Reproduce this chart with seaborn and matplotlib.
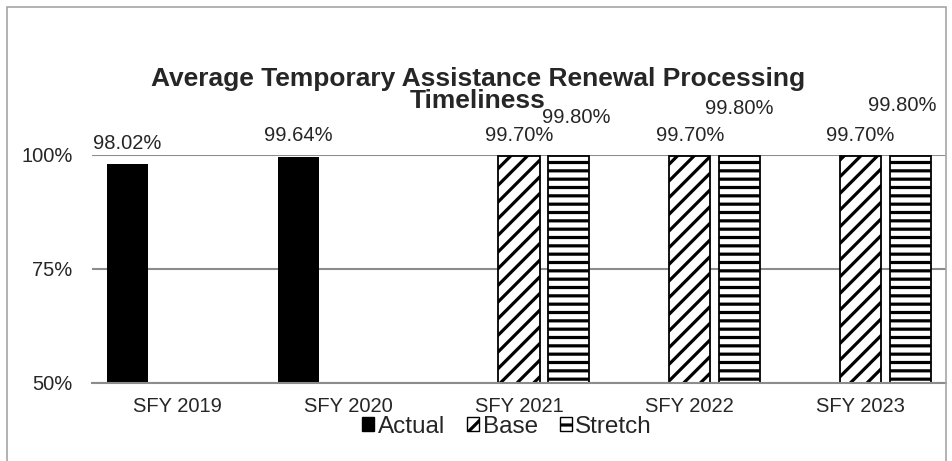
import pandas as pd
import numpy as np
import matplotlib
matplotlib.use("Agg")
import matplotlib.pyplot as plt
import matplotlib.patches as mpatches
import seaborn as sns

# ── data ────────────────────────────────────────────────────────────────────
years   = ["SFY 2019", "SFY 2020", "SFY 2021", "SFY 2022", "SFY 2023"]
series  = ["Actual", "Base", "Stretch"]
actual  = [98.02, 99.64, None, None, None]
base    = [None, None, 99.70, 99.70, 99.70]
stretch = [None, None, 99.80, 99.80, 99.80]
yticks  = [50, 75, 100]
title   = "Average Temporary Assistance Renewal Processing\nTimeliness"

rows = []
for name, vals in zip(series, [actual, base, stretch]):
    for yr, v in zip(years, vals):
        if v is not None:
            rows.append({"year": yr, "series": name, "value": v})
df = pd.DataFrame(rows)

sns.set_style("white")
plt.rcParams["font.family"] = ["Liberation Sans", "DejaVu Sans"]
plt.rcParams["hatch.linewidth"] = 2.3

GRID = "#8c8c8c"

fig = plt.figure(figsize=(9.52, 4.61), dpi=100)
ax = fig.add_axes([92/952, 1 - 383/461, (946 - 92)/952, (383 - 155)/461])

sns.barplot(data=df, x="year", y="value", hue="series",
            order=years, hue_order=series, width=0.875, gap=0.17,
            palette={"Actual": "black", "Base": "white", "Stretch": "white"},
            ax=ax, legend=False, saturation=1)

hatches = {"Actual": "", "Base": "//", "Stretch": "--"}
for cont, name in zip(ax.containers, series):
    for bar in cont:
        bar.set_edgecolor("black")
        bar.set_linewidth(1.3 if name != "Actual" else 0)
        bar.set_hatch(hatches[name])

# data labels (offsets in points, stretch labels nudged like the original)
stretch_dx = [5, 0, -6]
stretch_dy = [28, 34, 36]
for cont, name in zip(ax.containers, series):
    k = 0
    for bar in cont:
        h = bar.get_height()
        if np.isnan(h):
            continue
        xc = bar.get_x() + bar.get_width() / 2
        if name == "Stretch":
            off = (stretch_dx[k], stretch_dy[k])
        else:
            off = (0, 15)
        ax.annotate(f"{h:.2f}%", (xc, h), xytext=off, textcoords="offset points",
                    ha="center", va="center", fontsize=14.5, annotation_clip=False)
        k += 1

ax.set_ylim(50, 100)
ax.set_yticks(yticks)
ax.set_yticklabels([f"{t}%" for t in yticks])
ax.yaxis.grid(True, color=GRID, linewidth=1.5)
ax.set_axisbelow(True)
for s in ["top", "right", "left"]:
    ax.spines[s].set_visible(False)
ax.spines["bottom"].set_color(GRID)
ax.spines["bottom"].set_linewidth(1.5)
ax.tick_params(axis="both", length=0, labelsize=14.5)
ax.tick_params(axis="y", pad=14)
ax.tick_params(axis="x", pad=10)
ax.set_xlabel("")
ax.set_ylabel("")

handles = [
    mpatches.Patch(facecolor="black", edgecolor="black", label="Actual"),
    mpatches.Patch(facecolor="white", edgecolor="black", hatch="/", label="Base"),
    mpatches.Patch(facecolor="white", edgecolor="black", hatch="-", label="Stretch"),
]
fig.legend(handles=handles, loc="center", bbox_to_anchor=(507/952, 1 - 427/461),
           ncol=3, frameon=False, fontsize=17.5, handlelength=0.5, handleheight=0.5,
           handletextpad=0.15, columnspacing=0.9, borderpad=0)

fig.text(478/952, 1 - 90/461, title, ha="center", va="center",
         fontsize=19, fontweight="bold", linespacing=0.9)

fig.patches.append(mpatches.Rectangle((7/952, -0.05), (946 - 7)/952, 1.05 - 7/461,
                                      transform=fig.transFigure, fill=False,
                                      edgecolor="#a6a6a6", linewidth=1.2))

fig.savefig("out.png", dpi=100)
